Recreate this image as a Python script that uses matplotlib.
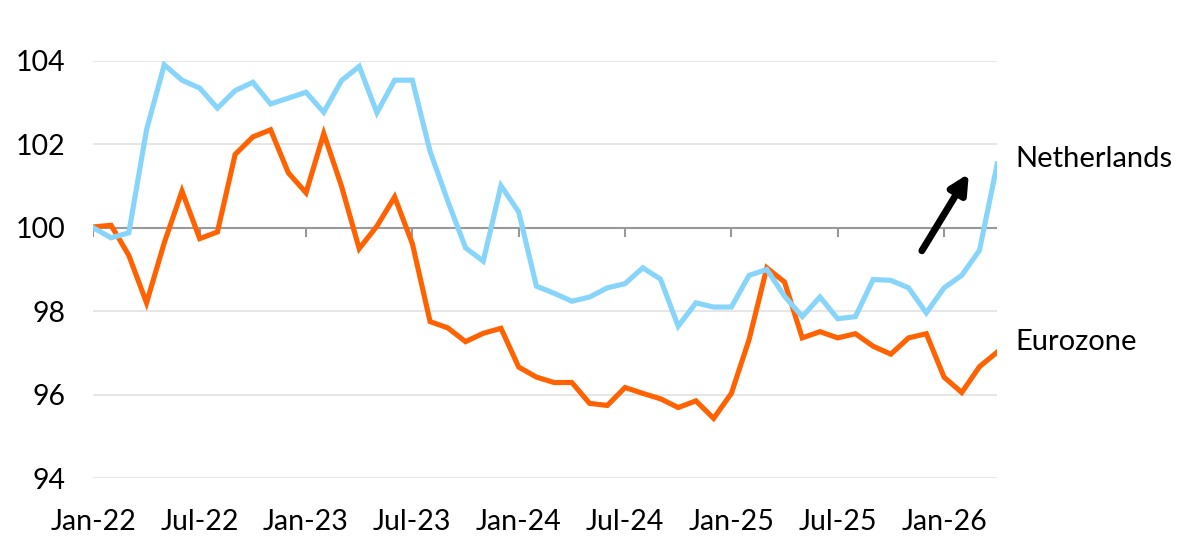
import matplotlib.pyplot as plt
import numpy as np

# Monatswerte Jan-22 bis Apr-26 (Index, Jan-22 = 100)
netherlands = [
    100.0, 99.76, 99.88, 102.35, 103.91, 103.54, 103.35, 102.87, 103.29, 103.49,
    102.97, 103.11, 103.25, 102.77, 103.53, 103.87, 102.76, 103.54, 103.54, 101.83,
    100.64, 99.52, 99.20, 101.01, 100.38, 98.60, 98.43, 98.24, 98.34, 98.56,
    98.66, 99.04, 98.77, 97.64, 98.20, 98.10, 98.10, 98.86, 99.00, 98.36,
    97.87, 98.34, 97.82, 97.87, 98.76, 98.74, 98.56, 97.96, 98.56, 98.86,
    99.46, 101.53,
]
eurozone = [
    100.02, 100.06, 99.34, 98.20, 99.64, 100.88, 99.74, 99.90, 101.76, 102.18,
    102.35, 101.32, 100.84, 102.26, 101.0, 99.50, 100.04, 100.74, 99.62, 97.75,
    97.60, 97.27, 97.47, 97.59, 96.66, 96.42, 96.29, 96.29, 95.79, 95.74,
    96.17, 96.03, 95.90, 95.69, 95.85, 95.43, 96.03, 97.32, 99.04, 98.70,
    97.36, 97.51, 97.36, 97.46, 97.16, 96.97, 97.36, 97.46, 96.42, 96.05,
    96.67, 97.02,
]
tick_labels = ["Jan-22", "Jul-22", "Jan-23", "Jul-23", "Jan-24",
               "Jul-24", "Jan-25", "Jul-25", "Jan-26"]
y_ticks = [94, 96, 98, 100, 102, 104]

plt.rcParams["font.family"] = ["Lato", "DejaVu Sans"]

months = np.arange(len(netherlands))
tick_pos = np.arange(0, 6 * len(tick_labels), 6)

fig = plt.figure(figsize=(12, 5.53), dpi=100)
ax = fig.add_axes([0.0778, 0.1356, 0.7532, 0.7541])

for y in y_ticks:
    if y != 100:
        ax.axhline(y, color="#e4e4e4", lw=1.3, zorder=0)
ax.axhline(100, color="#999999", lw=1.5, zorder=1)
ax.vlines(tick_pos, 99.78, 100, color="#999999", lw=1.5, zorder=1)

ax.plot(months, netherlands, color="#87d5fa", lw=3.7, solid_joinstyle="miter", zorder=3)
ax.plot(months, eurozone, color="#ff6200", lw=3.7, solid_joinstyle="miter", zorder=2)

ax.annotate("", xy=(49.4, 101.3), xytext=(46.75, 99.45),
            arrowprops=dict(arrowstyle="-|>", color="black", lw=5, mutation_scale=28,
                            shrinkA=0, shrinkB=0))

ax.text(52.0, 101.65, "Netherlands", fontsize=21, va="center", ha="left")
ax.text(52.0, 97.26, "Eurozone", fontsize=21, va="center", ha="left")

ax.set_xlim(0, len(netherlands) - 1)
ax.set_ylim(94, 104)
ax.set_yticks(y_ticks)
ax.set_xticks(tick_pos)
ax.set_xticklabels(tick_labels)
ax.tick_params(axis="both", length=0, labelsize=20.5)
ax.tick_params(axis="y", pad=20)
ax.tick_params(axis="x", pad=22)
for spine in ax.spines.values():
    spine.set_visible(False)

fig.savefig("out.png", dpi=100)
